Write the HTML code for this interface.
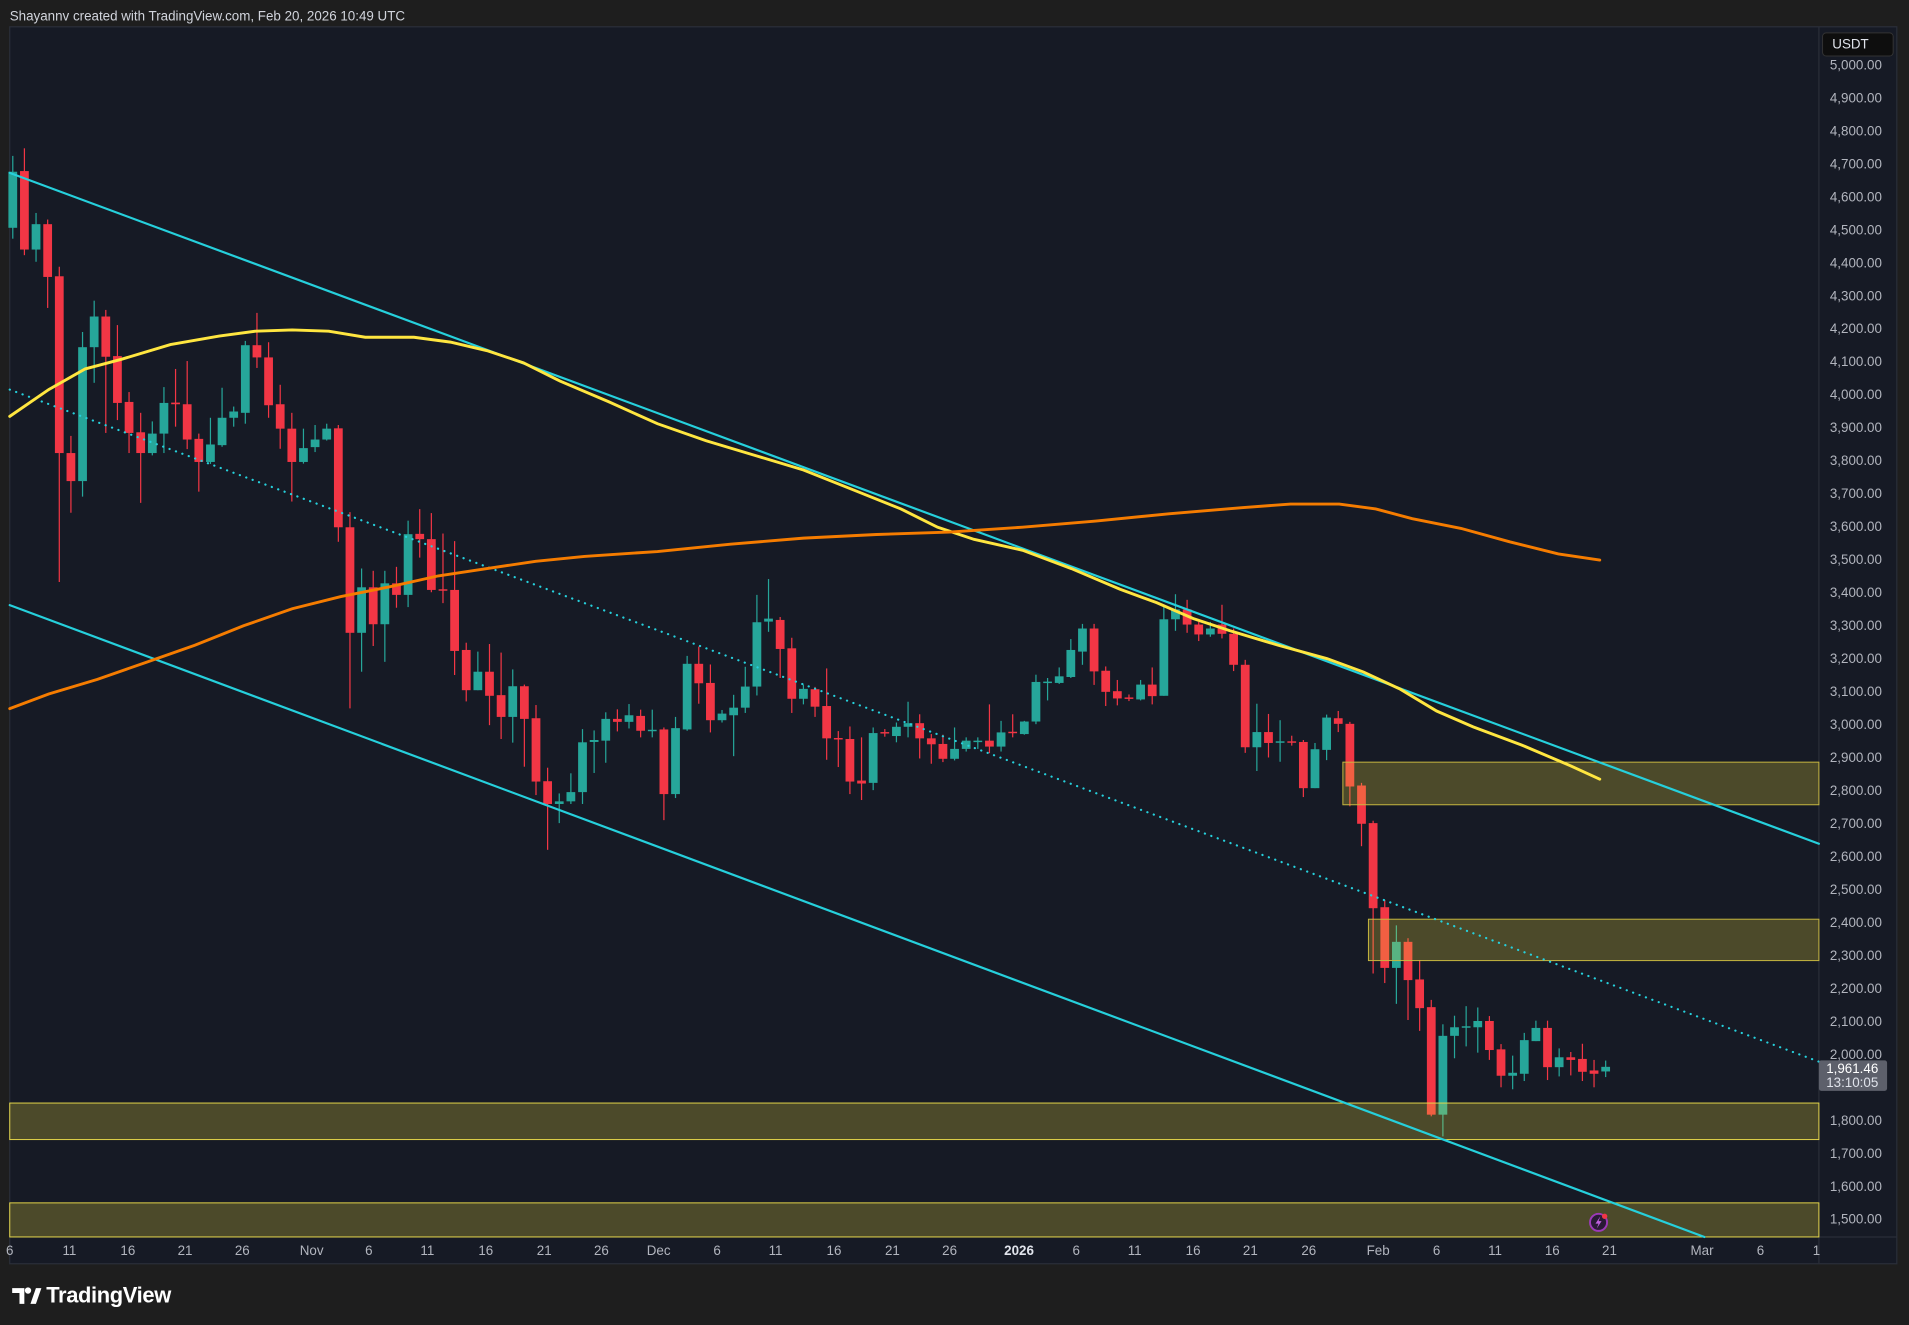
<!DOCTYPE html>
<html><head><meta charset="utf-8">
<style>
html,body{margin:0;padding:0;background:#1e1e1e;width:1909px;height:1325px;overflow:hidden}
svg{display:block}
text{font-family:"Liberation Sans",sans-serif}
</style></head>
<body>
<svg id="c" width="1909" height="1325" viewBox="0 0 1568 1088.3" xmlns="http://www.w3.org/2000/svg">
<rect x="0" y="0" width="1568" height="1088.3" fill="#1e1e1e"/>
<text x="8" y="17" font-size="11" fill="#d1d4dc">Shayannv created with TradingView.com, Feb 20, 2026 10:49 UTC</text>
<rect x="8" y="22" width="1550" height="1016" fill="#161a25" stroke="#2a2e39" stroke-width="1"/>
<line x1="1494" y1="22" x2="1494" y2="1038" stroke="#2a2e39" stroke-width="1"/>
<line x1="8" y1="1016" x2="1558" y2="1016" stroke="#2a2e39" stroke-width="1"/>
<g id="candles"></g>
<g id="zones">
<rect x="1103" y="626" width="391" height="35" fill="rgba(240,220,60,0.25)" stroke="#c9b940" stroke-width="0.8"/>
<rect x="1124" y="755" width="370" height="34" fill="rgba(240,220,60,0.25)" stroke="#c9b940" stroke-width="0.8"/>
<rect x="8" y="906" width="1486" height="30" fill="rgba(240,220,60,0.25)" stroke="#e6d84a" stroke-width="0.8"/>
<rect x="8" y="988" width="1486" height="28" fill="rgba(240,220,60,0.25)" stroke="#e6d84a" stroke-width="0.8"/>
</g>
<g fill="none" stroke-linecap="round">
<line x1="8" y1="142" x2="1494" y2="693" stroke="#26d0dc" stroke-width="1.8"/>
<line x1="8" y1="497" x2="1400" y2="1016" stroke="#26d0dc" stroke-width="1.8"/>
<line x1="8" y1="320" x2="1494" y2="872" stroke="#26d0dc" stroke-width="1.8" stroke-dasharray="0.1 5.5"/>
<polyline stroke="#ffe640" stroke-width="2.4" points="8,342 40,320 70,303 100,295 140,283 180,276 210,272 240,271 270,272 300,277 340,277 370,281 400,288 430,298 460,313 500,330 540,348 580,362 620,374 660,386 700,402 740,418 770,433 800,443 840,452 880,467 920,484 950,495 980,508 1010,518 1050,530 1090,541 1120,552 1150,566 1180,584 1210,597 1250,612 1290,629 1314,640"/>
<polyline stroke="#f57c00" stroke-width="2.4" points="8,582 40,570 80,558 120,544 160,530 200,514 240,500 280,490 320,482 360,473 400,467 440,461 480,457 540,453 600,447 660,442 720,439 780,437 840,433 900,428 960,422 1020,417 1060,414 1100,414 1130,418 1160,426 1200,434 1240,445 1280,455 1314,460"/>
</g>
<g id="paxis" font-size="11" fill="#b2b5be"></g>
<rect x="1497" y="27" width="58" height="19" rx="3" fill="#0e0e0e" stroke="#333" stroke-width="0.8"/>
<text x="1505" y="40" font-size="11" fill="#e0e3eb">USDT</text>
<rect x="1494" y="871" width="56" height="25" rx="2" fill="#5d606b"/>
<text x="1500" y="881.5" font-size="11" fill="#fff">1,961.46</text>
<text x="1500" y="893" font-size="11" fill="#e0e3eb">13:10:05</text>
<g id="taxis" font-size="11" fill="#b2b5be" text-anchor="middle"></g>
<circle cx="1313" cy="1004" r="7" fill="#2a1a35" stroke="#9c39b8" stroke-width="1.6"/>
<path d="M1314.5 999 L1310.5 1005 L1313 1005 L1311.5 1009 L1315.5 1003 L1313 1003 Z" fill="#c060e0"/>
<circle cx="1318" cy="999" r="2.2" fill="#f23645"/>
<g transform="translate(10,1055)">
<path d="M0 3 H10 V16 H6 V7 H0 Z" fill="#fff"/>
<circle cx="13" cy="5" r="2.6" fill="#fff"/>
<path d="M15 16 L19.5 3 H24 L19.5 16 Z" fill="#fff"/>
</g>
<text x="38" y="1070" font-size="18" font-weight="bold" fill="#fff" letter-spacing="-0.3">TradingView</text>
</svg>
<script>
var NS="http://www.w3.org/2000/svg";
function Y(p){return 53+(5000-p)*0.2709;}
var D=[[4505,4723,4472,4675],[4677,4746,4422,4439],[4439,4550,4402,4516],[4516,4530,4262,4356],[4358,4387,3431,3822],[3822,3874,3641,3737],[3737,4189,3690,4143],[4143,4284,4035,4236],[4236,4256,3883,4114],[4116,4210,3922,3974],[3977,4007,3822,3883],[3885,3944,3671,3822],[3822,3918,3815,3881],[3881,4022,3822,3974],[3975,4077,3902,3970],[3970,4101,3834,3863],[3865,3881,3705,3795],[3795,3929,3789,3848],[3846,4020,3841,3929],[3929,3963,3902,3948],[3944,4162,3911,4149],[4149,4247,4080,4112],[4112,4158,3929,3967],[3970,4029,3835,3896],[3896,3944,3675,3795],[3795,3896,3790,3837],[3840,3907,3825,3863],[3863,3911,3860,3896],[3897,3907,3553,3597],[3597,3643,3048,3277],[3277,3472,3159,3415],[3415,3465,3237,3303],[3303,3465,3189,3427],[3427,3477,3353,3392],[3392,3617,3355,3576],[3577,3652,3505,3561],[3561,3640,3400,3407],[3409,3578,3367,3405],[3407,3555,3149,3222],[3225,3247,3069,3103],[3103,3220,3103,3159],[3159,3243,2997,3086],[3088,3217,2955,3022],[3022,3166,2944,3115],[3115,3120,2871,3016],[3018,3058,2785,2826],[2827,2868,2619,2758],[2758,2790,2700,2766],[2766,2851,2758,2794],[2794,2985,2758,2945],[2946,2981,2852,2952],[2950,3036,2883,3016],[3016,3045,2978,3007],[3007,3061,2987,3027],[3025,3044,2960,2980],[2979,3044,2960,2983],[2984,2990,2709,2788],[2788,3022,2776,2988],[2984,3207,2980,3183],[3183,3235,3062,3124],[3125,3181,2975,3012],[3012,3043,3005,3032],[3027,3089,2903,3050],[3050,3174,3034,3114],[3114,3392,3087,3309],[3311,3440,3280,3320],[3316,3325,3140,3228],[3230,3262,3034,3077],[3077,3120,3060,3107],[3106,3113,3022,3053],[3055,3169,2892,2957],[2958,2979,2870,2955],[2955,2993,2788,2826],[2829,2960,2770,2820],[2822,2990,2800,2973],[2976,2985,2962,2974],[2964,3005,2945,2992],[2992,3068,2960,3003],[3003,3030,2896,2957],[2957,2970,2880,2939],[2940,2968,2885,2895],[2895,2990,2890,2925],[2925,2960,2917,2950],[2947,2960,2925,2950],[2950,3060,2912,2932],[2932,3010,2917,2975],[2977,3030,2960,2974],[2970,3010,2968,3008],[3008,3150,3000,3128],[3126,3140,3072,3129],[3125,3172,3122,3145],[3143,3258,3140,3225],[3220,3304,3180,3290],[3290,3304,3119,3160],[3162,3175,3055,3098],[3100,3134,3057,3078],[3081,3090,3070,3079],[3075,3134,3072,3120],[3120,3172,3060,3085],[3086,3358,3086,3318],[3318,3394,3283,3348],[3348,3377,3277,3302],[3302,3310,3252,3272],[3272,3310,3265,3290],[3302,3362,3260,3274],[3274,3290,3161,3180],[3180,3195,2913,2930],[2930,3062,2858,2976],[2976,3031,2899,2943],[2945,3012,2886,2948],[2948,2965,2935,2945],[2946,2952,2779,2806],[2806,2943,2806,2924],[2922,3029,2891,3020],[3018,3040,2976,3001],[3001,3007,2751,2811],[2814,2822,2630,2698],[2700,2707,2244,2442],[2445,2467,2215,2261],[2261,2390,2152,2340],[2340,2351,2103,2224],[2226,2285,2070,2139],[2142,2164,1811,1816],[1816,2090,1750,2055],[2055,2116,1987,2081],[2081,2145,2023,2084],[2081,2141,2004,2100],[2100,2115,1982,2012],[2014,2030,1899,1934],[1934,1995,1893,1943],[1940,2064,1918,2042],[2039,2101,2039,2079],[2079,2101,1921,1960],[1960,2017,1932,1990],[1990,2006,1935,1982],[1985,2031,1918,1946],[1950,1982,1899,1940],[1947,1980,1930,1961]];
var g=document.getElementById("candles");
D.forEach(function(c,i){
 var x=10.5+i*9.55, o=c[0],h=c[1],l=c[2],cl=c[3];
 var col=cl>=o?"#26a69a":"#f23645";
 var w=document.createElementNS(NS,"line");
 w.setAttribute("x1",x);w.setAttribute("x2",x);w.setAttribute("y1",Y(h));w.setAttribute("y2",Y(l));
 w.setAttribute("stroke",col);w.setAttribute("stroke-width","1");g.appendChild(w);
 var t=Math.min(Y(o),Y(cl)),b=Math.max(Y(o),Y(cl));
 var r=document.createElementNS(NS,"rect");
 r.setAttribute("x",x-3.6);r.setAttribute("width",7.2);r.setAttribute("y",t);r.setAttribute("height",Math.max(b-t,1.2));
 r.setAttribute("fill",col);g.appendChild(r);
});
var pa=document.getElementById("paxis");
for(var p=5000;p>=1500;p-=100){
 if(p===1900)continue;
 var s=(p/1000|0)+","+String(p%1000).padStart(3,"0")+".00";
 var t=document.createElementNS(NS,"text");
 t.setAttribute("x",1503);t.setAttribute("y",Y(p)+4);t.textContent=s;pa.appendChild(t);
}
var ta=document.getElementById("taxis");
var L=[[8,"6"],[57,"11"],[105,"16"],[152,"21"],[199,"26"],[256,"Nov"],[303,"6"],[351,"11"],[399,"16"],[447,"21"],[494,"26"],[541,"Dec"],[589,"6"],[637,"11"],[685,"16"],[733,"21"],[780,"26"],[837,"2026"],[884,"6"],[932,"11"],[980,"16"],[1027,"21"],[1075,"26"],[1132,"Feb"],[1180,"6"],[1228,"11"],[1275,"16"],[1322,"21"],[1398,"Mar"],[1446,"6"],[1492,"1"]];
L.forEach(function(a){
 var t=document.createElementNS(NS,"text");
 t.setAttribute("x",a[0]);t.setAttribute("y",1031);t.textContent=a[1];
 if(a[1]==="2026"){t.setAttribute("font-weight","bold");t.setAttribute("fill","#e0e3eb");}
 ta.appendChild(t);
});
</script>
</body></html>
